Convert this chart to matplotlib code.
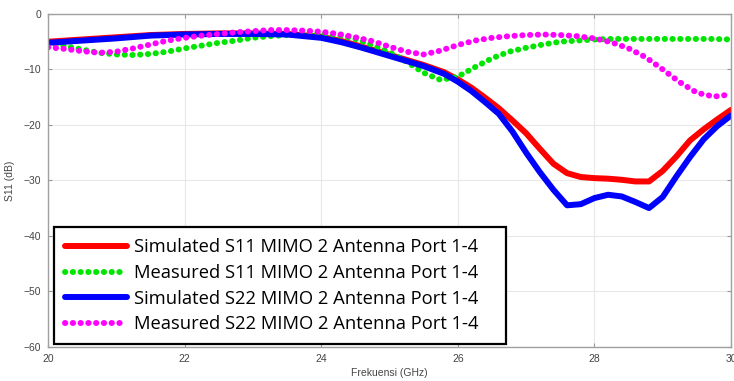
import matplotlib
matplotlib.use("Agg")
import matplotlib.pyplot as plt

# frequency grid for the simulated curves (GHz)
freq_sim = [20, 20.5, 21, 21.5, 22, 22.5, 23, 23.5, 24, 24.3, 24.6, 24.9, 25.2, 25.5,
            25.8, 26.0, 26.2, 26.4, 26.6, 26.8, 27.0, 27.2, 27.4, 27.6, 27.8, 28.0,
            28.2, 28.4, 28.6, 28.8, 29.0, 29.2, 29.4, 29.6, 29.8, 30.0]
sim_s11 = [-5.0, -4.6, -4.2, -3.8, -3.6, -3.5, -3.5, -3.6, -4.1, -4.9, -5.9, -7.0, -8.1, -9.2,
           -10.5, -11.8, -13.3, -15.1, -17.0, -19.2, -21.5, -24.3, -27.0, -28.7, -29.4, -29.6,
           -29.7, -29.9, -30.2, -30.2, -28.3, -25.7, -22.8, -20.8, -19.0, -17.3]
sim_s22 = [-5.2, -4.8, -4.4, -3.9, -3.7, -3.6, -3.6, -3.7, -4.3, -5.1, -6.1, -7.2, -8.3, -9.4,
           -10.8, -12.2, -13.9, -15.9, -18.0, -21.2, -25.0, -28.5, -31.7, -34.5, -34.3, -33.2,
           -32.6, -32.9, -33.9, -35.0, -33.0, -29.3, -25.8, -22.6, -20.2, -18.3]

# frequency grid for the measured curves (GHz)
freq_meas = [20, 20.25, 20.5, 20.75, 21, 21.25, 21.5, 21.75, 22, 22.25, 22.5, 22.75, 23,
             23.25, 23.5, 23.75, 24, 24.25, 24.5, 24.75, 25, 25.25, 25.5, 25.75, 26, 26.25,
             26.5, 26.75, 27, 27.25, 27.5, 27.75, 28, 28.25, 28.5, 28.75, 29, 29.25, 29.5,
             29.75, 30]
meas_s11 = [-5.2, -5.8, -6.4, -7.0, -7.3, -7.4, -7.2, -6.8, -6.2, -5.7, -5.2, -4.8, -4.3,
            -4.0, -3.8, -3.6, -3.5, -3.8, -4.5, -5.6, -6.9, -8.6, -10.6, -11.9, -11.3, -9.6,
            -8.0, -6.8, -6.1, -5.5, -5.0, -4.8, -4.6, -4.5, -4.5, -4.5, -4.5, -4.5, -4.5,
            -4.5, -4.6]
meas_s22 = [-6.0, -6.3, -6.7, -7.0, -6.8, -6.2, -5.5, -4.8, -4.3, -3.9, -3.6, -3.3, -3.1,
            -2.9, -2.9, -3.0, -3.2, -3.6, -4.2, -4.9, -5.9, -6.8, -7.3, -6.6, -5.6, -4.8,
            -4.3, -4.0, -3.8, -3.7, -3.8, -4.0, -4.4, -5.1, -6.2, -7.8, -10.0, -12.3, -14.2,
            -14.9, -14.5]

labels = ["Simulated S11 MIMO 2 Antenna Port 1-4",
          "Measured S11 MIMO 2 Antenna Port 1-4",
          "Simulated S22 MIMO 2 Antenna Port 1-4",
          "Measured S22 MIMO 2 Antenna Port 1-4"]

fig = plt.figure(figsize=(7.34, 3.81), dpi=100)
ax = fig.add_axes([0.0654, 0.09, 0.9305, 0.8733])

dots = (0, (0.05, 1.25))
ax.plot(freq_sim, sim_s11, color="#ff0000", lw=4.3, solid_capstyle="round", label=labels[0])
ax.plot(freq_meas, meas_s11, color="#00e600", lw=4.3, linestyle=dots,
        dash_capstyle="round", label=labels[1])
ax.plot(freq_sim, sim_s22, color="#0000ff", lw=4.3, solid_capstyle="round", label=labels[2])
ax.plot(freq_meas, meas_s22, color="#ff00ff", lw=4.3, linestyle=dots,
        dash_capstyle="round", label=labels[3])

ax.set_xlim(20, 30)
ax.set_ylim(-60, 0)
ax.set_xticks([20, 22, 24, 26, 28, 30])
ax.set_yticks([0, -10, -20, -30, -40, -50, -60])
ax.grid(True, color="#e8e8e8", lw=0.8)
ax.set_axisbelow(True)
for s in ax.spines.values():
    s.set_color("#a0a0a0")
    s.set_linewidth(1.0)
ax.tick_params(direction="in", length=3, width=0.8, color="#999999",
               labelsize=7.5, labelcolor="#444444", top=True, right=True, pad=5)
for t in ax.get_xticklabels() + ax.get_yticklabels():
    t.set_fontfamily("Liberation Sans")
ax.set_xlabel("Frekuensi (GHz)", fontsize=7.5, color="#444444", labelpad=3,
              family="Liberation Sans")
ax.set_ylabel("S11 (dB)", fontsize=7.5, color="#444444", labelpad=6,
              family="Liberation Sans")

# legend box stretched to the width seen in the reference
leg = ax.legend(loc="lower left", bbox_to_anchor=(0.0088, 0.008, 0.6618, 0.35),
                mode="expand", borderaxespad=0,
                prop={"family": "Open Sans", "size": 13.2}, frameon=True, fancybox=False,
                framealpha=1, edgecolor="black", handlelength=3.4, labelspacing=0.41,
                borderpad=0.6, handletextpad=0.38)
leg.get_frame().set_linewidth(1.6)

fig.savefig("out.png", dpi=100)
